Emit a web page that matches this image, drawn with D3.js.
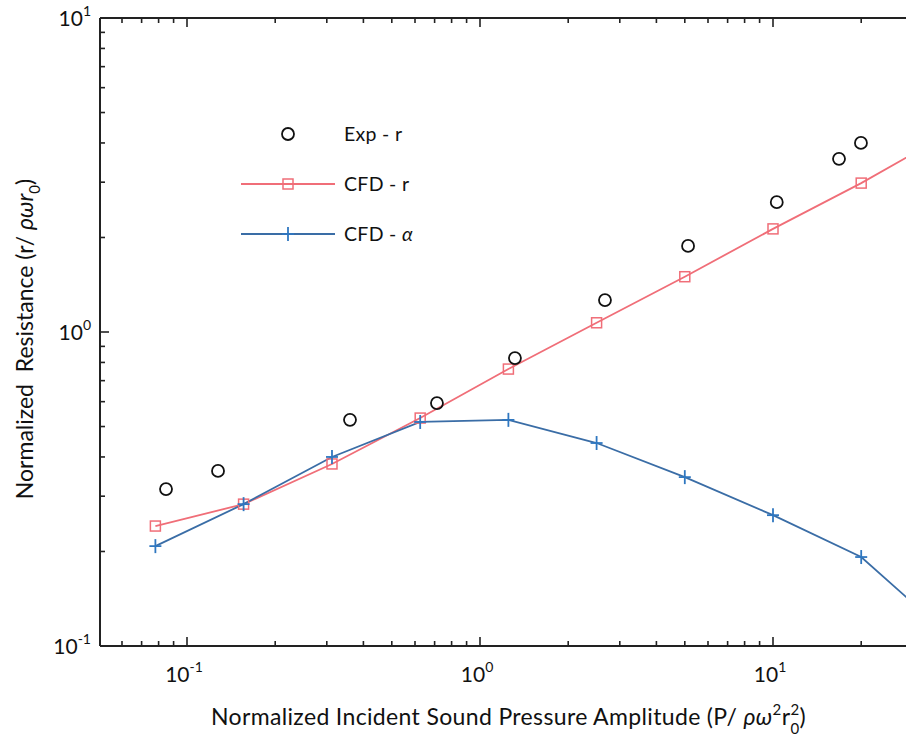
<!DOCTYPE html>
<html>
<head>
<meta charset="utf-8">
<script src="https://cdn.jsdelivr.net/npm/d3@7/dist/d3.min.js"></script>
<style>
  html, body { margin: 0; padding: 0; background: #fff; }
  svg { display: block; }
  text { font-family: Lato, "Open Sans", "Liberation Sans", sans-serif; fill: #111; }
</style>
</head>
<body>
<svg id="chart" width="906" height="738"></svg>
<script>
// ---- data ----
const cfdX = [0.078, 0.156, 0.3125, 0.625, 1.25, 2.5, 5, 10, 20, 40];
const cfdR = [0.241, 0.283, 0.380, 0.532, 0.762, 1.07, 1.50, 2.13, 2.98, 4.3];
const cfdAlpha = [0.208, 0.283, 0.400, 0.517, 0.525, 0.443, 0.345, 0.261, 0.192, 0.108];
const expX = [0.0848, 0.1276, 0.360, 0.713, 1.316, 2.67, 5.13, 10.3, 16.8, 19.96];
const expR = [0.316, 0.361, 0.525, 0.594, 0.826, 1.264, 1.88, 2.59, 3.56, 4.0];
const xTickVals = [0.1, 1, 10];
const xTickExps = ["-1", "0", "1"];
const yTickVals = [0.1, 1, 10];
const yTickExps = ["-1", "0", "1"];
const legendLabels = ["Exp - r", "CFD - r", "CFD - "];

// ---- layout ----
const svg = d3.select("#chart");
const pLeft = 100, pTop = 18, pBottom = 646, pRight = 960;
const x = d3.scaleLog().domain([0.1, 10]).range([187, 773]);
const y = d3.scaleLog().domain([0.1, 10]).range([pBottom, pTop]);
const xMin = x.invert(pLeft), xMax = x.invert(pRight);

const red = "#f06e78", blue = "#3a6da6", blueMark = "#2f77c0";

svg.append("clipPath").attr("id", "clip")
  .append("rect").attr("x", pLeft).attr("y", pTop).attr("width", pRight - pLeft).attr("height", pBottom - pTop);

// ---- axes ----
const ax = svg.append("g");
const xTicksAll = [];
for (let e = -2; e <= 2; e++) for (let m = 1; m <= 9; m++) {
  const v = m * Math.pow(10, e);
  if (v > xMin && v < xMax) xTicksAll.push(v);
}
const yTicksAll = [];
for (let e = -1; e <= 0; e++) for (let m = 1; m <= 9; m++) {
  const v = m * Math.pow(10, e);
  if (v > 0.1 && v < 10) yTicksAll.push(v);
}
const isMajor = v => Math.abs(Math.log10(v) - Math.round(Math.log10(v))) < 1e-9;

xTicksAll.forEach(v => {
  const len = isMajor(v) ? 9 : 5;
  ax.append("line").attr("x1", x(v)).attr("x2", x(v)).attr("y1", pBottom).attr("y2", pBottom - len)
    .attr("stroke", "#222").attr("stroke-width", 1.6);
  ax.append("line").attr("x1", x(v)).attr("x2", x(v)).attr("y1", pTop).attr("y2", pTop + len)
    .attr("stroke", "#222").attr("stroke-width", 1.6);
});
yTicksAll.forEach(v => {
  const len = isMajor(v) ? 9 : 5;
  ax.append("line").attr("x1", pLeft).attr("x2", pLeft + len).attr("y1", y(v)).attr("y2", y(v))
    .attr("stroke", "#222").attr("stroke-width", 1.6);
});
ax.append("line").attr("x1", pLeft).attr("x2", 906).attr("y1", pBottom).attr("y2", pBottom).attr("stroke", "#222").attr("stroke-width", 2);
ax.append("line").attr("x1", pLeft).attr("x2", 906).attr("y1", pTop).attr("y2", pTop).attr("stroke", "#222").attr("stroke-width", 2);
ax.append("line").attr("x1", pLeft).attr("x2", pLeft).attr("y1", pTop).attr("y2", pBottom).attr("stroke", "#222").attr("stroke-width", 2);

xTickVals.forEach((v, i) => {
  const t = svg.append("text").attr("x", x(v) - 3).attr("y", pBottom + 36).attr("text-anchor", "middle").style("font-size", "21px");
  t.append("tspan").text("10");
  t.append("tspan").attr("dy", -10).style("font-size", "14px").text(xTickExps[i]);
});
yTickVals.forEach((v, i) => {
  const t = svg.append("text").attr("x", 91).attr("y", y(v) + 8).attr("text-anchor", "end").style("font-size", "21px");
  t.append("tspan").text("10");
  t.append("tspan").attr("dy", -10).style("font-size", "14px").text(yTickExps[i]);
});

const xt = svg.append("text").attr("x", 211).attr("y", 725).style("font-size", "23px").style("letter-spacing", "0.35px");
xt.append("tspan").text("Normalized Incident Sound Pressure Amplitude (P/ ");
xt.append("tspan").style("font-style", "italic").text("ρω");
xt.append("tspan").attr("dy", -10).style("font-size", "15px").text("2");
xt.append("tspan").attr("dy", 10).text("r");
xt.append("tspan").attr("dy", -10).style("font-size", "15px").text("2");
xt.append("tspan").attr("dx", -9).attr("dy", 19).style("font-size", "15px").text("0");
xt.append("tspan").attr("dy", -9).text(")");

const yt = svg.append("text").attr("transform", "translate(33,339) rotate(-90)").attr("text-anchor", "middle")
  .attr("xml:space", "preserve").style("white-space", "pre").style("font-size", "23px");
yt.append("tspan").text("Normalized  Resistance (r/ ");
yt.append("tspan").style("font-style", "italic").text("ρωr");
yt.append("tspan").attr("dy", 7).style("font-size", "15px").text("0");
yt.append("tspan").attr("dy", -7).text(")");

// ---- series ----
const plot = svg.append("g").attr("clip-path", "url(#clip)");
const line = d3.line().x(d => x(d[0])).y(d => y(d[1]));
const rPts = cfdX.map((v, i) => [v, cfdR[i]]);
const aPts = cfdX.map((v, i) => [v, cfdAlpha[i]]);
const ePts = expX.map((v, i) => [v, expR[i]]);

plot.append("path").datum(rPts).attr("d", line).attr("fill", "none").attr("stroke", red).attr("stroke-width", 1.8);
plot.append("path").datum(aPts).attr("d", line).attr("fill", "none").attr("stroke", blue).attr("stroke-width", 1.8);

plot.selectAll(".sq").data(rPts).enter().append("rect")
  .attr("x", d => x(d[0]) - 5).attr("y", d => y(d[1]) - 5).attr("width", 10).attr("height", 10)
  .attr("fill", "none").attr("stroke", red).attr("stroke-width", 1.5);
const plus = (g, cx, cy) => {
  g.append("line").attr("x1", cx - 6).attr("x2", cx + 6).attr("y1", cy).attr("y2", cy).attr("stroke", blueMark).attr("stroke-width", 1.8);
  g.append("line").attr("x1", cx).attr("x2", cx).attr("y1", cy - 7).attr("y2", cy + 7).attr("stroke", blueMark).attr("stroke-width", 1.8);
};
aPts.forEach(d => plus(plot, x(d[0]), y(d[1])));
plot.selectAll(".ex").data(ePts).enter().append("circle")
  .attr("cx", d => x(d[0])).attr("cy", d => y(d[1])).attr("r", 6)
  .attr("fill", "none").attr("stroke", "#111").attr("stroke-width", 1.8);

// ---- legend ----
const lg = svg.append("g");
lg.append("circle").attr("cx", 288).attr("cy", 134).attr("r", 6).attr("fill", "none").attr("stroke", "#111").attr("stroke-width", 1.8);
lg.append("line").attr("x1", 241).attr("x2", 335).attr("y1", 184).attr("y2", 184).attr("stroke", red).attr("stroke-width", 1.8);
lg.append("rect").attr("x", 283).attr("y", 179).attr("width", 10).attr("height", 10).attr("fill", "none").attr("stroke", red).attr("stroke-width", 1.5);
lg.append("line").attr("x1", 241).attr("x2", 335).attr("y1", 234).attr("y2", 234).attr("stroke", blue).attr("stroke-width", 1.8);
plus(lg, 288, 234);
const ly = [134, 184, 234];
legendLabels.forEach((s, i) => {
  const t = lg.append("text").attr("x", 344).attr("y", ly[i] + 7).style("font-size", "19.5px").style("letter-spacing", "0.3px");
  t.append("tspan").text(s);
  if (i === 2) t.append("tspan").style("font-style", "italic").text("α");
});
</script>
</body>
</html>
